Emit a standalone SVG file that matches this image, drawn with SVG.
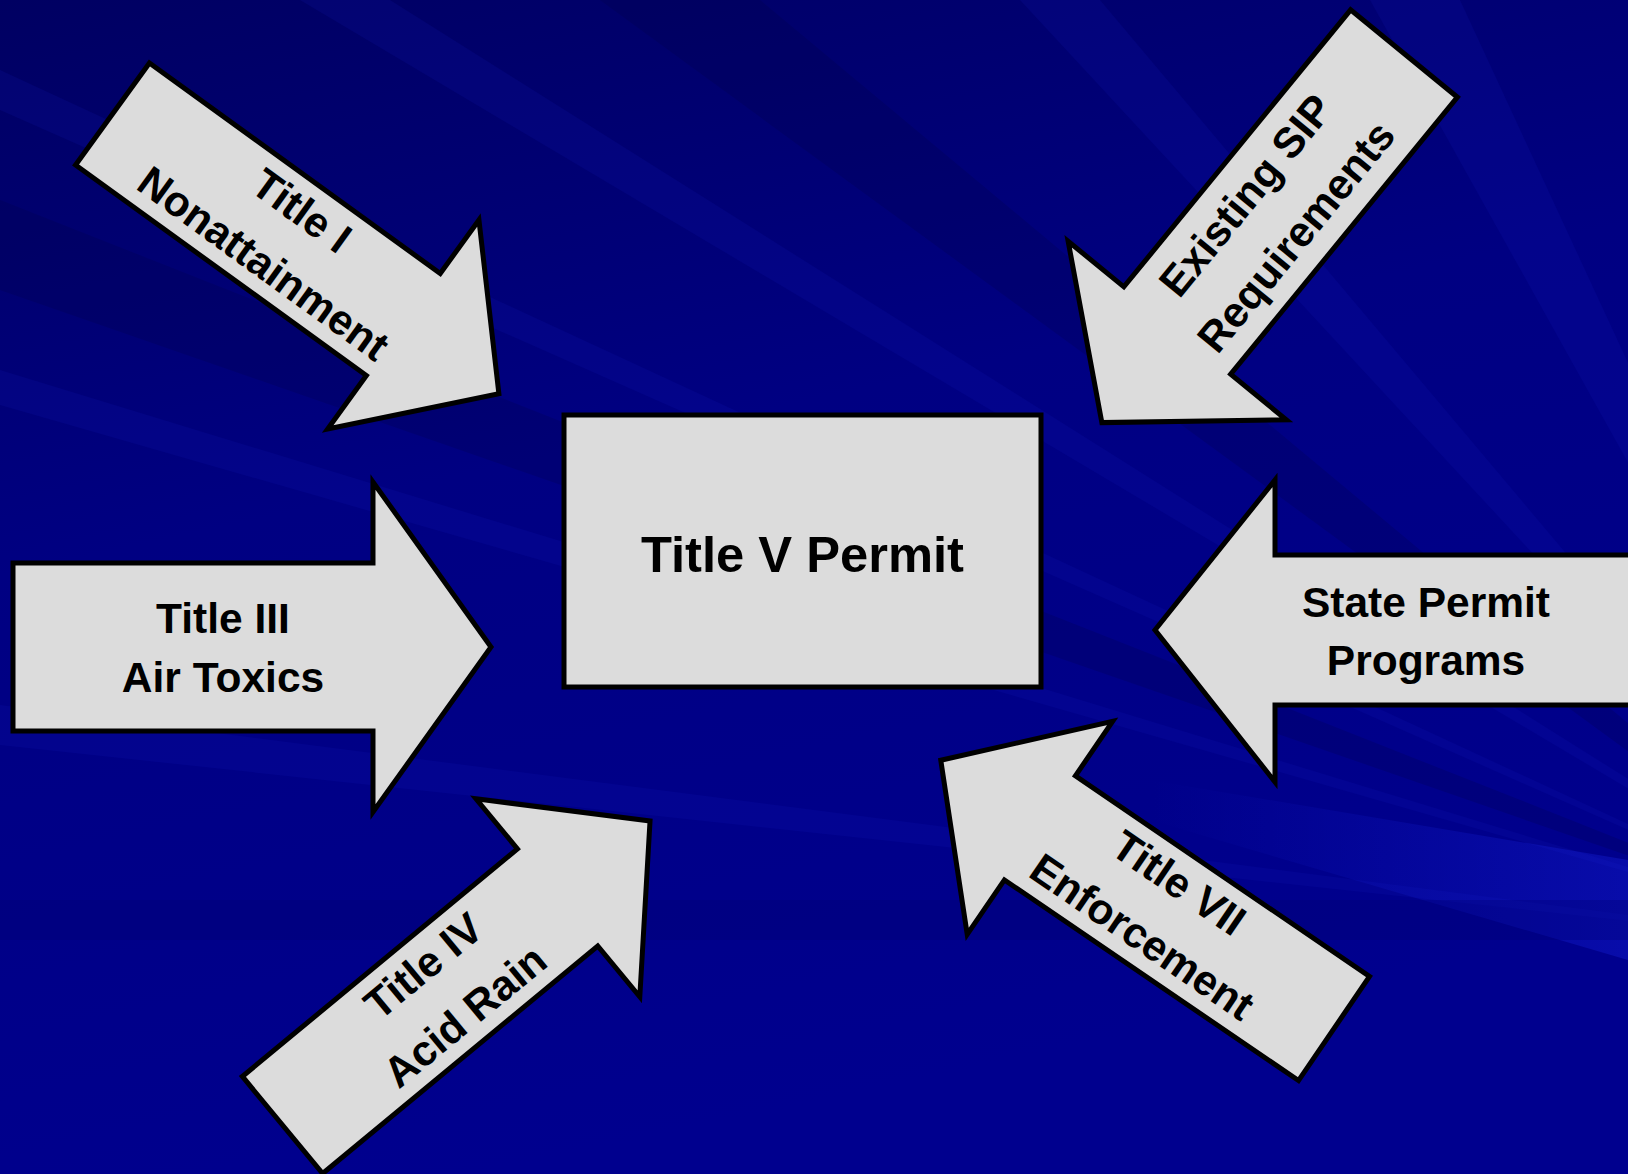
<svg xmlns="http://www.w3.org/2000/svg" width="1628" height="1174" viewBox="0 0 1628 1174">
<defs>
<linearGradient id="bg" x1="0" y1="0" x2="0.3" y2="1">
<stop offset="0" stop-color="#000062"/>
<stop offset="0.45" stop-color="#000082"/>
<stop offset="1" stop-color="#00008e"/>
</linearGradient>
<linearGradient id="glow" x1="0" y1="0" x2="1" y2="0">
<stop offset="0" stop-color="#2030ff" stop-opacity="0"/>
<stop offset="1" stop-color="#2030ff" stop-opacity="0.25"/>
</linearGradient>
<style>
.arrow{fill:#dcdcdc;stroke:#000;stroke-width:5;stroke-linejoin:miter}
.lbl{font-family:"Liberation Sans",Arial,sans-serif;font-weight:bold;font-size:42.5px;fill:#000;text-anchor:middle}
.main{font-size:50.7px}
.ray{fill:#1a22c8;opacity:0.13}
.ray2{fill:#000040;opacity:0.2}
</style>
</defs>
<rect x="0" y="0" width="1628" height="1174" fill="url(#bg)"/>
<g id="background-rays">
<polygon class="ray" points="1900,950 0,70 0,110"/>
<polygon class="ray" points="1900,950 300,0 390,0"/>
<polygon class="ray" points="1900,950 1020,0 1100,0"/>
<polygon class="ray" points="1900,950 0,370 0,405"/>
<polygon class="ray2" points="1900,950 600,0 760,0"/>
<polygon class="ray2" points="1900,950 0,200 0,290"/>
<polygon class="ray" points="1900,950 1370,0 1460,0"/>
<polygon class="ray" points="1900,950 0,705 0,745"/>
<polygon points="1150,780 1628,860 1628,960 1150,820" fill="url(#glow)"/>
<rect x="0" y="900" width="1628" height="40" fill="#000070" opacity="0.3"/>
</g>
<g id="connectors"></g>
<g id="title-v-permit">
<rect class="arrow" x="564" y="415" width="477" height="272"/>
<text class="lbl main" x="802.5" y="572">Title V Permit</text>
</g>
<g id="title-i" transform="translate(112.5,114) rotate(35.9)">
<path class="arrow" d="M0,-63 H359 V-129 L477,0 L359,129 V63 H0 Z"/>
<text class="lbl" x="210" y="-18">Title I</text>
<text class="lbl" x="210" y="47">Nonattainment</text>
</g>
<g id="existing-sip">
<path class="arrow" transform="translate(1404,53.5) rotate(129.3)" d="M0,-69 H358 V-141 L477,0 L358,141 V69 H0 Z"/>
<g transform="translate(1271,216) rotate(-50.7)">
<text class="lbl" x="0" y="-18">Existing SIP</text>
<text class="lbl" x="0" y="47">Requirements</text>
</g>
</g>
<g id="title-iii">
<path class="arrow" d="M13,563 H373 V482 L491,647 L373,812 V731 H13 Z"/>
<text class="lbl" x="223" y="633">Title III</text>
<text class="lbl" x="223" y="692">Air Toxics</text>
</g>
<g id="state-permit">
<path class="arrow" d="M1640,555 H1275 V480 L1155,630 L1275,782 V705 H1640 Z"/>
<text class="lbl" x="1426" y="617">State Permit</text>
<text class="lbl" x="1426" y="675">Programs</text>
</g>
<g id="title-iv" transform="translate(282.5,1125) rotate(-39.6)">
<path class="arrow" d="M0,-63 H357 V-128 L477,0 L357,129 V63 H0 Z"/>
<text class="lbl" x="210" y="-18">Title IV</text>
<text class="lbl" x="210" y="47">Acid Rain</text>
</g>
<g id="title-vii">
<path class="arrow" transform="translate(1334,1028.5) rotate(-145.7)" d="M0,-63 H356 V-129 L476,0 L356,129 V63 H0 Z"/>
<g transform="translate(1160.5,910) rotate(34.3)">
<text class="lbl" x="0" y="-18">Title VII</text>
<text class="lbl" x="0" y="47">Enforcement</text>
</g>
</g>
</svg>
